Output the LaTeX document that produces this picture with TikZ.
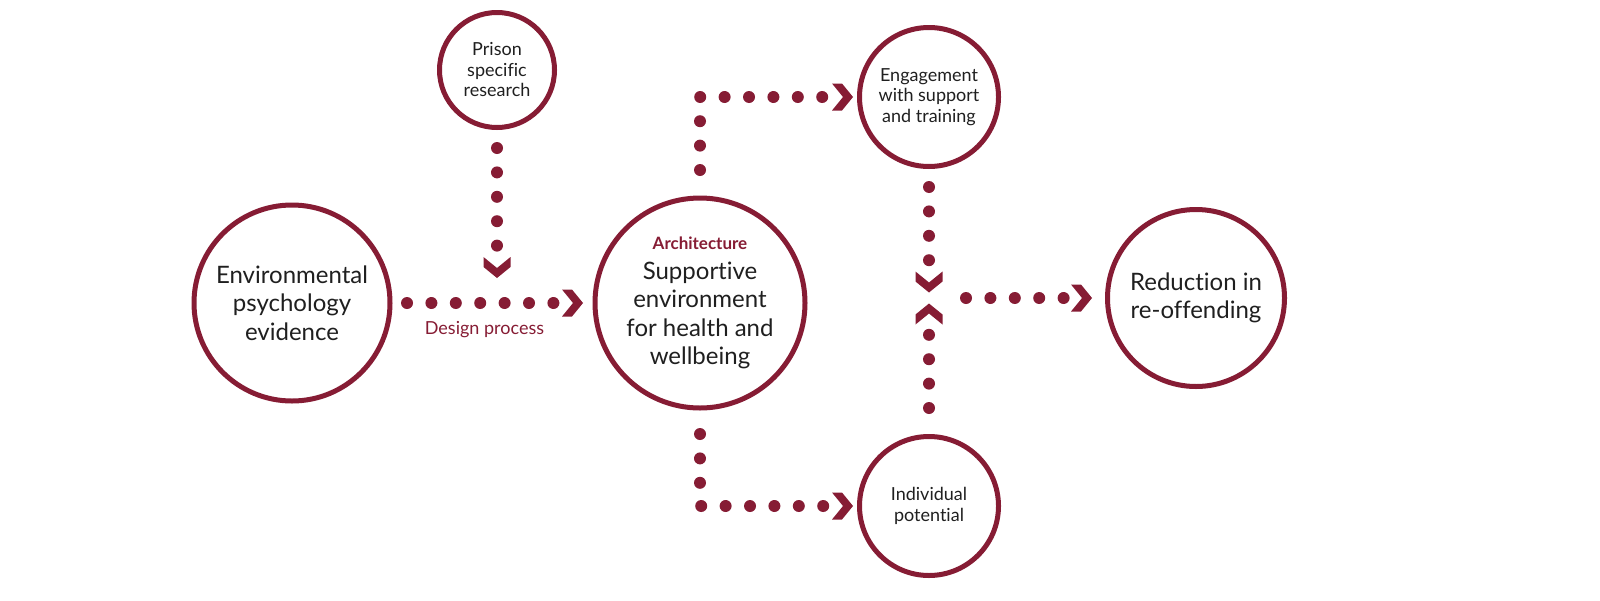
\documentclass[tikz,border=0pt]{standalone}
\usepackage{fontspec}
\setmainfont{Lato}[RawFeature={-liga;-dlig;-calt}]
\usetikzlibrary{arrows.meta}
\definecolor{prisonred}{RGB}{134,28,52}

% flat-cut chevron tip, line stops behind it
\pgfdeclarearrow{
  name=Chevron,
  parameters={\the\pgfarrowlength,\the\pgfarrowwidth,\the\pgfarrowinset},
  setup code={
    \pgfarrowssettipend{0pt}
    \pgfarrowssetbackend{-\pgfarrowlength}
    \pgfarrowssetlineend{-\pgfarrowlength}
    \pgfarrowshullpoint{0pt}{0pt}
    \pgfarrowsupperhullpoint{-\pgfarrowlength}{.5\pgfarrowwidth}
    \pgfarrowssavethe\pgfarrowlength
    \pgfarrowssavethe\pgfarrowwidth
    \pgfarrowssavethe\pgfarrowinset
  },
  drawing code={
    \pgfpathmoveto{\pgfpointorigin}
    \pgfpathlineto{\pgfpoint{\pgfarrowinset-\pgfarrowlength}{.5\pgfarrowwidth}}
    \pgfpathlineto{\pgfpoint{-\pgfarrowlength}{.5\pgfarrowwidth}}
    \pgfpathlineto{\pgfpoint{-\pgfarrowinset}{0pt}}
    \pgfpathlineto{\pgfpoint{-\pgfarrowlength}{-.5\pgfarrowwidth}}
    \pgfpathlineto{\pgfpoint{\pgfarrowinset-\pgfarrowlength}{-.5\pgfarrowwidth}}
    \pgfpathclose
    \pgfusepathqfill
  },
  defaults={length=21pt,width=27pt,inset=10pt}
}

\tikzset{
  bubble/.style={circle,draw=prisonred,line width=5pt,align=center,text=black!88,inner sep=1pt},
  bigbubble/.style={bubble,font=\fontsize{24}{28.5}\selectfont},
  smallbubble/.style={bubble,font=\fontsize{18}{20.5}\selectfont},
  dotflow/.style={draw=prisonred,line width=12pt,line cap=round,dash pattern=on 0pt off 24.4pt,
    -{Chevron[color=prisonred]}},
}

\begin{document}
\begin{tikzpicture}[x=1pt,y=-1pt]
\useasboundingbox (0,0) rectangle (1600,600);

\node[bigbubble,minimum size=196pt] (env) at (292,303) {Environmental\\psychology\\evidence};
\node[smallbubble,minimum size=115pt] (prison) at (497,70) {Prison\\specific\\research};
\node[bigbubble,minimum size=210pt] (arch) at (700,303)
  {\textcolor{prisonred}{\fontsize{17}{20}\selectfont\bfseries Architecture}\\[1pt]Supportive\\environment\\for health and\\wellbeing};
\node[smallbubble,minimum size=139pt] (eng) at (929,97) {Engagement\\with support\\and training};
\node[smallbubble,minimum size=139pt] (indiv) at (929,506) {Individual\\potential};
\node[bigbubble,minimum size=177pt] (red) at (1196,298) {Reduction in\\re-offending};

\coordinate (merge) at (497,303);
\coordinate (hub) at (929,298);

% flows
\draw[dotflow,shorten <=14.5pt,shorten >=9.5pt] (env.east) -- (arch.west)
  node[pos=0.46,below=9pt,text=prisonred,font=\fontsize{18}{20}\selectfont] (design) {Design process};
\draw[dotflow,shorten <=18pt,shorten >=25pt] (prison.south) -- (merge);
\draw[dotflow,shorten <=25.5pt,shorten >=4pt] (arch.north) |- (eng);
\draw[dotflow,shorten <=23.5pt,shorten >=4pt] (arch.south) |- (indiv);
\draw[dotflow,shorten <=18pt,shorten >=5.5pt] (eng.south) -- (hub);
\draw[dotflow,shorten <=26pt,shorten >=5.5pt] (indiv.north) -- (hub);
\draw[dotflow,shorten <=37pt,shorten >=13pt] (hub) -- (red.west);

\end{tikzpicture}
\end{document}
